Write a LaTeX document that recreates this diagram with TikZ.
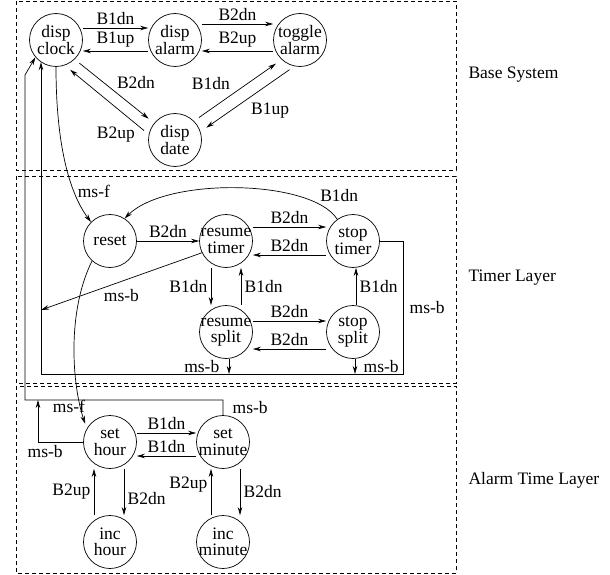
\documentclass[tikz,border=0pt]{standalone}
\usepackage{fontspec}
\setmainfont{Liberation Serif}
\usetikzlibrary{arrows.meta}

\begin{document}
\begin{tikzpicture}[
    x=1pt, y=-1pt,
    >={Stealth[length=8pt,width=4.5pt]},
    every node/.style={font=\fontsize{17.5}{16.5}\selectfont},
    state/.style={draw, circle, minimum size=53pt, inner xsep=-5pt, inner ysep=-1pt,
                  align=center, line width=0.7pt},
    layer/.style={dashed, dash pattern=on 4pt off 3pt, line width=0.7pt},
    tr/.style={->, line width=0.7pt},
    gap/.style={shorten <=6pt, shorten >=7pt},
]
\useasboundingbox (0,0) rectangle (610,575);

% --- Layer boxes ---
\draw[layer] (16,1) rectangle (456,170);
\draw[layer] (16,176) rectangle (456,383);
\draw[layer] (16,386) rectangle (456,573);
\node[anchor=west] (lbase)  at (465,75)  {Base System};
\node[anchor=west] (ltimer) at (465,278) {Timer Layer};
\node[anchor=west] (lalarm) at (465,480) {Alarm Time Layer};

% --- Base system states ---
\node[state] (clock)  at (56,40)   {disp\\clock};
\node[state] (alarm)  at (175,40)  {disp\\alarm};
\node[state] (toggle) at (300,40)  {toggle\\alarm};
\node[state] (date)   at (175,140) {disp\\date};

\draw[tr] ([yshift=12pt]clock.east) -- node[above] {B1dn} ([yshift=12pt]alarm.west);
\draw[tr] ([yshift=-11pt]alarm.west) -- node[above] {B1up} ([yshift=-11pt]clock.east);
\draw[tr] ([yshift=16pt]alarm.east) -- node[above] {B2dn} ([yshift=16pt]toggle.west);
\draw[tr] ([yshift=-11pt]toggle.west) -- node[above] {B2up} ([yshift=-11pt]alarm.east);
\draw[tr,gap] (clock.-46) -- node[above right=-1pt] {B2dn} (date.141);
\draw[tr,gap] (date.168) -- node[pos=.05, left=6pt, yshift=-4pt] {B2up} (clock.-71);
\draw[tr,gap] (date.45) -- node[pos=.45, above left] {B1dn} (toggle.-133);
\draw[tr,gap] (toggle.-102) -- node[pos=.5, below right] {B1up} (date.18);

% --- Timer layer states ---
\node[state] (reset)  at (110,241) {reset};
\node[state] (rtimer) at (226,241) {resume\\timer};
\node[state] (stimer) at (353,241) {stop\\timer};
\node[state] (rsplit) at (226,332) {resume\\split};
\node[state] (ssplit) at (353,332) {stop\\split};

\coordinate (busL) at (41,374);
\coordinate (busR) at (403,374);
\coordinate (wall) at (41,310);

\draw[tr] (clock.south) .. controls +(0,80) and +(-21,-28) .. node[pos=.7, right] {ms-f} (reset.135);
\draw[tr] (stimer.126) .. controls +(-25,-40) and +(42,-42) .. node[pos=.15, above right=-2pt] {B1dn} (reset.57);
\draw[tr] (reset.east) -- node[above] {B2dn} (rtimer.west);
\draw[tr] ([yshift=14pt]rtimer.east) -- node[above] {B2dn} ([yshift=14pt]stimer.west);
\draw[tr] ([yshift=-14pt]stimer.west) -- node[above] {B2dn} ([yshift=-14pt]rtimer.east);
\draw[tr] ([xshift=-15pt]rtimer.south) -- node[left] {B1dn} ([xshift=-15pt]rsplit.north);
\draw[tr] ([xshift=15pt]rsplit.north) -- node[right] {B1dn} ([xshift=15pt]rtimer.south);
\draw[tr] ([yshift=11pt]rsplit.east) -- node[above] {B2dn} ([yshift=11pt]ssplit.west);
\draw[tr] ([yshift=-17pt]ssplit.west) -- node[above] {B2dn} ([yshift=-17pt]rsplit.east);
\draw[tr] ([xshift=3pt]ssplit.north) -- node[right] {B1dn} ([xshift=3pt]stimer.south);
\draw[tr] (rtimer.206) -- node[below=4pt] {ms-b} (wall);
\draw[tr] ([xshift=3pt]rsplit.south) -- node[left=6pt] {ms-b} ([xshift=3pt]rsplit.south |- busL);
\draw[tr] ([xshift=2pt]ssplit.south) -- node[right=5pt] {ms-b} ([xshift=2pt]ssplit.south |- busR);
\draw[tr] (stimer.east) -| node[pos=.75, right=3pt] {ms-b} (busR) -| (clock.236);

% --- Alarm time layer states ---
\node[state] (shour) at (110,442) {set\\hour};
\node[state] (smin)  at (223,442) {set\\minute};
\node[state] (ihour) at (110,542) {inc\\hour};
\node[state] (imin)  at (223,542) {inc\\minute};

\coordinate (rail) at (25,400);
\coordinate (bend) at (25,75);
\coordinate (join) at (38,400);

\draw[tr, shorten >=5pt] (reset.228) .. controls +(-25,50) and +(-15,-45) .. node[pos=.85, left=-8pt] {ms-f} (shour.150);
\draw[tr] (smin.north) |- node[pos=.25, right=6pt] {ms-b} (rail) -- (bend) -- (clock.220);
\draw[tr] (shour.west) -| node[pos=.42, below] {ms-b} (join);
\draw[tr] ([yshift=9pt]shour.east) -- node[above] {B1dn} ([yshift=9pt]smin.west);
\draw[tr] ([yshift=-14pt]smin.west) -- node[above] {B1dn} ([yshift=-14pt]shour.east);
\draw[tr] ([xshift=-16pt]ihour.north) -- node[left] {B2up} ([xshift=-16pt]shour.south);
\draw[tr] ([xshift=14pt]shour.south) -- node[pos=.65, right] {B2dn} ([xshift=14pt]ihour.north);
\draw[tr] ([xshift=-12pt]imin.north) -- node[pos=.65, left] {B2up} ([xshift=-12pt]smin.south);
\draw[tr] ([xshift=17pt]smin.south) -- node[right] {B2dn} ([xshift=17pt]imin.north);

\end{tikzpicture}
\end{document}
